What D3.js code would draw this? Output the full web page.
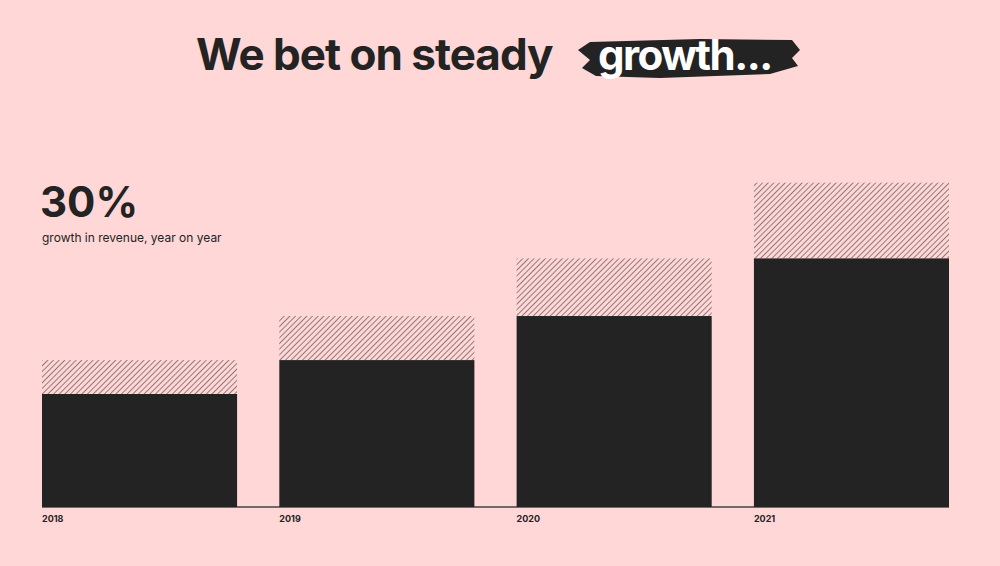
<!DOCTYPE html>
<html><head><meta charset="utf-8">
<script src="https://cdn.jsdelivr.net/npm/d3@7"></script>
<style>
  body { margin: 0; background: #ffd7d7; }
  text { font-family: Inter, "Open Sans", sans-serif; fill: #232323; }
</style></head>
<body><svg width="1000" height="566"></svg>
<script>
const years = ["2018", "2019", "2020", "2021"];
const actual = [100, 130, 169, 220];
const projected = [130, 169, 220, 287];

const svg = d3.select("svg");
const baseY = 507;

const x = d3.scaleBand().domain(years).range([42, 949]).paddingInner(0.178).paddingOuter(0);
const y = d3.scaleLinear().domain([0, 100]).range([baseY, 394]);

const defs = svg.append("defs");
defs.append("pattern")
    .attr("id", "hatch")
    .attr("patternUnits", "userSpaceOnUse")
    .attr("width", 4).attr("height", 4)
    .attr("patternTransform", "rotate(45)")
  .append("line")
    .attr("x1", 0).attr("y1", 0).attr("x2", 0).attr("y2", 4)
    .attr("stroke", "#4a3a3a").attr("stroke-width", 1.2);

svg.append("line")
  .attr("x1", x.range()[0]).attr("x2", x.range()[1])
  .attr("y1", baseY).attr("y2", baseY)
  .attr("stroke", "#444").attr("stroke-width", 1.5);

svg.append("g").selectAll("rect")
  .data(years)
  .join("rect")
    .attr("x", d => x(d))
    .attr("width", x.bandwidth())
    .attr("y", (d, i) => y(projected[i]))
    .attr("height", (d, i) => y(actual[i]) - y(projected[i]))
    .attr("fill", "url(#hatch)");

svg.append("g").selectAll("rect")
  .data(years)
  .join("rect")
    .attr("x", d => x(d))
    .attr("width", x.bandwidth())
    .attr("y", (d, i) => y(actual[i]))
    .attr("height", (d, i) => baseY - y(actual[i]))
    .attr("fill", "#232323");

svg.append("g").selectAll("text")
  .data(years)
  .join("text")
    .attr("x", d => x(d))
    .attr("y", 522)
    .attr("font-size", 9)
    .attr("font-weight", 700)
    .text(d => d);

// title
svg.append("text")
  .attr("x", 196).attr("y", 70)
  .attr("font-size", 44).attr("font-weight", 700)
  .attr("letter-spacing", -1)
  .text("We bet on steady");
svg.append("path")
  .attr("d", "M578,50 L590,42 L700,39 L792,40 L800,50 L792,58 L798,66 L770,74 L660,78 L596,76 L582,68 L590,60 Z")
  .attr("fill", "#232323");
svg.append("text")
  .attr("x", 598).attr("y", 70)
  .attr("font-size", 42).attr("font-weight", 700)
  .attr("letter-spacing", -1.5)
  .style("fill", "#fff")
  .text("growth...");

svg.append("text")
  .attr("x", 40).attr("y", 217)
  .attr("font-size", 42).attr("font-weight", 700)
  .text("30%");
svg.append("text")
  .attr("x", 42).attr("y", 242)
  .attr("font-size", 12)
  .text("growth in revenue, year on year");
</script></body></html>
